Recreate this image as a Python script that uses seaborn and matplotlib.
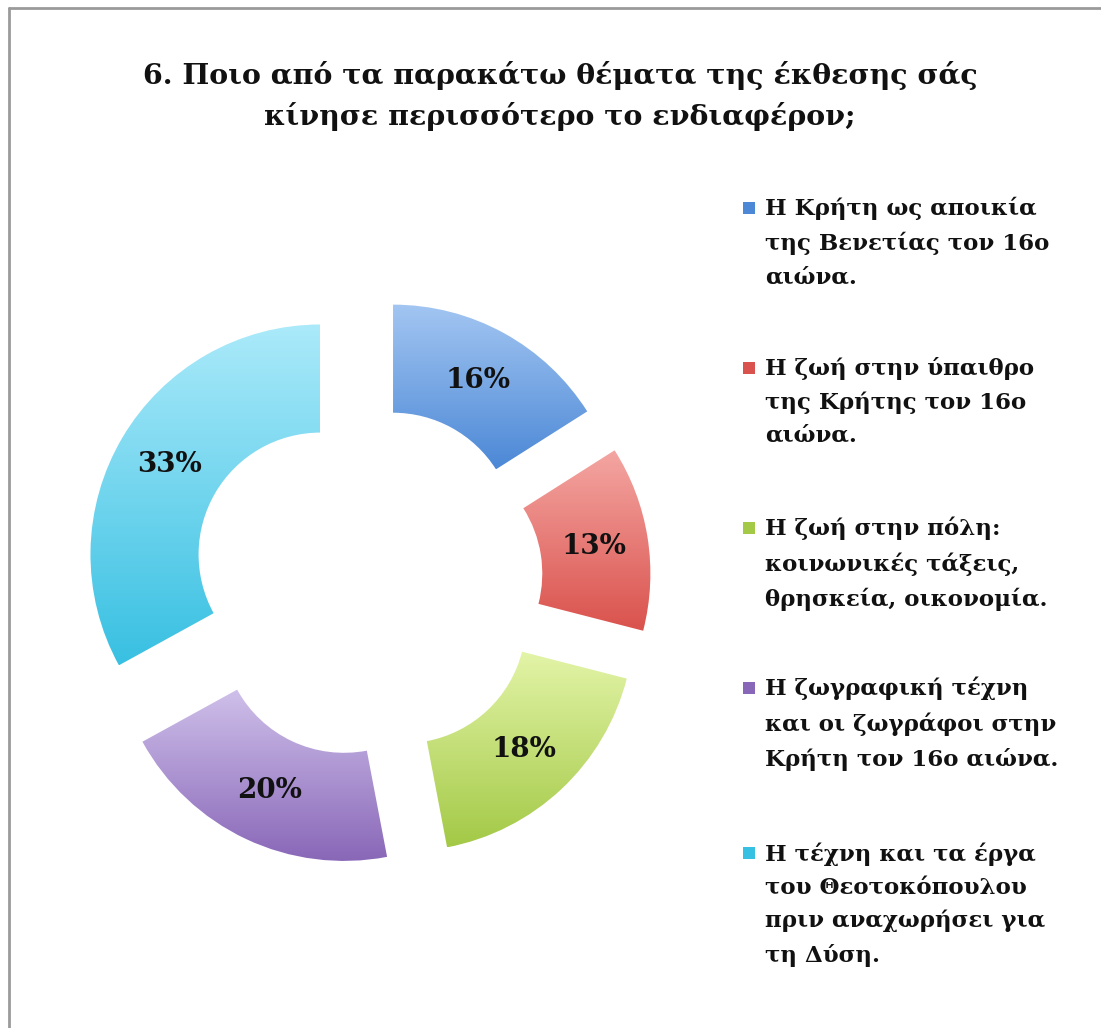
import matplotlib
matplotlib.use("Agg")
import matplotlib.pyplot as plt
import matplotlib.colors as mcolors
from matplotlib.lines import Line2D
from matplotlib.patches import Rectangle
import numpy as np
import seaborn as sns

# данные
title = "6. Ποιο από τα παρακάτω θέματα της έκθεσης σάς\nκίνησε περισσότερο το ενδιαφέρον;"
categories = [
    "Η Κρήτη ως αποικία\nτης Βενετίας τον 16ο\nαιώνα.",
    "Η ζωή στην ύπαιθρο\nτης Κρήτης τον 16ο\nαιώνα.",
    "Η ζωή στην πόλη:\nκοινωνικές τάξεις,\nθρησκεία, οικονομία.",
    "Η ζωγραφική τέχνη\nκαι οι ζωγράφοι στην\nΚρήτη τον 16ο αιώνα.",
    "Η τέχνη και τα έργα\nτου Θεοτοκόπουλου\nπριν αναχωρήσει για\nτη Δύση.",
]
values = [16, 13, 18, 20, 33]
# градиенты: верх / низ
top_colors = ["#a3c6f2", "#f4a6a2", "#e3f4a8", "#cfc0ea", "#abeafa"]
bottom_colors = ["#4c88d6", "#da524d", "#a3c946", "#8967b8", "#38c0e2"]

sns.set_theme(style="white")
plt.rcParams['font.family'] = ['DejaVu Serif']

W, H = 1101, 1028
fig = plt.figure(figsize=(W / 100, H / 100), dpi=100)
fig.patch.set_facecolor("white")

# рамка
fig.add_artist(Line2D([9 / W, 9 / W], [0, 1 - 8 / H], transform=fig.transFigure,
                      color="#9a9a9a", lw=2))
fig.add_artist(Line2D([9 / W, 1], [1 - 8 / H, 1 - 8 / H], transform=fig.transFigure,
                      color="#9a9a9a", lw=2))

fig.text(560 / W, 1 - 96 / H, title, ha="center", va="center", fontsize=20.5,
         fontweight="bold", color="#111111", linespacing=1.5)

# оси для кольца: центр (367, 582) px, радиус 230 px
cx, cy, R, L = 367, 582, 230, 300
ax = fig.add_axes([(cx - L) / W, (H - cy - L) / H, 2 * L / W, 2 * L / H])
ax.set_facecolor("none")

wedges, texts, autotexts = ax.pie(
    values, startangle=90, counterclock=False, explode=[0.235] * len(values),
    autopct="%1.0f%%", pctdistance=0.765,
    wedgeprops=dict(width=0.47, linewidth=0, edgecolor="none"),
    textprops=dict(fontsize=20, fontweight="bold", color="#111111"))

lim = L / R
for w, c1, c2 in zip(wedges, top_colors, bottom_colors):
    w.set_facecolor("none")
    ext = w.get_path().get_extents()
    cmap = mcolors.LinearSegmentedColormap.from_list("g", [c2, c1])
    grad = np.linspace(0, 1, 256).reshape(-1, 1)
    im = ax.imshow(grad, cmap=cmap, origin="lower", aspect="auto",
                   extent=[ext.x0, ext.x1, ext.y0, ext.y1], zorder=1)
    im.set_clip_path(w)
for t in autotexts:
    t.set_zorder(5)
ax.set_xlim(-lim, lim)
ax.set_ylim(-lim, lim)
ax.set_aspect("equal")
ax.axis("off")

# легенда
leg_y = [210, 370, 530, 690, 855]
for lab, y, c1, c2 in zip(categories, leg_y, top_colors, bottom_colors):
    fig.text(765 / W, 1 - (y - 13) / H, lab, ha="left", va="top", fontsize=16.5,
             fontweight="bold", color="#111111", linespacing=1.65)
    fig.add_artist(Rectangle((743 / W, 1 - (y + 4) / H), 12 / W, 12 / H,
                             transform=fig.transFigure, facecolor=c2, edgecolor="none"))

fig.savefig("out.png", dpi=100)
